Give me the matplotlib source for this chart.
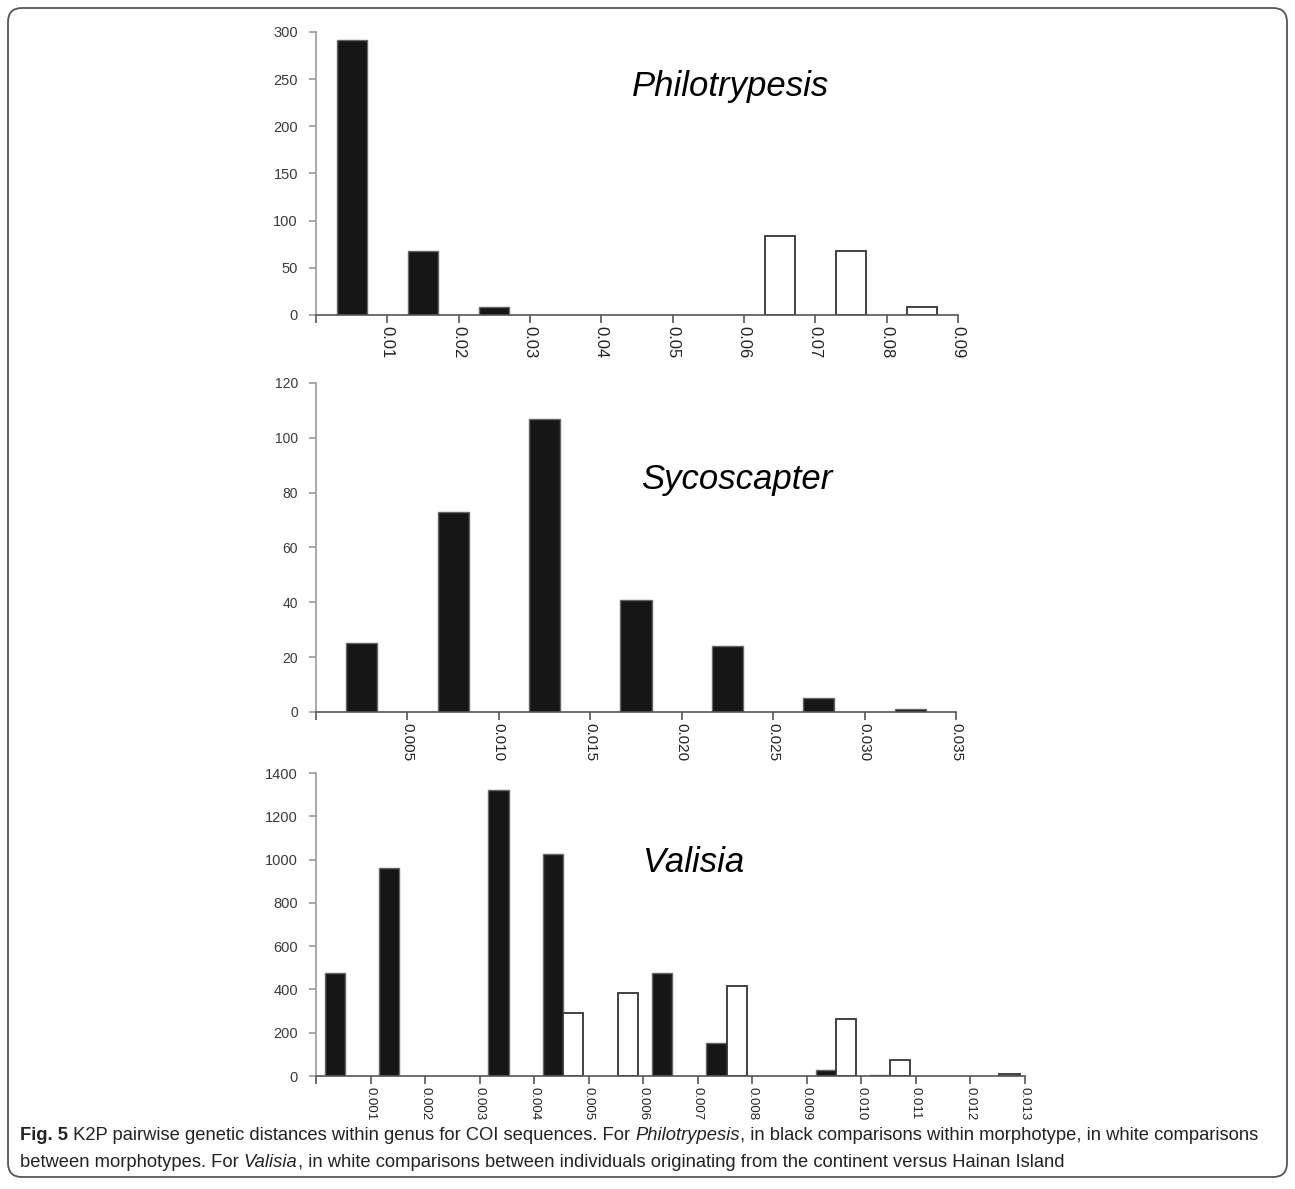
import numpy as np
import matplotlib
matplotlib.use("Agg")
import matplotlib.pyplot as plt
from matplotlib.patches import FancyBboxPatch
from matplotlib.transforms import IdentityTransform

plt.rcParams["font.family"] = ["Liberation Sans", "DejaVu Sans"]

# Philotrypesis
philo_labels = ["0.01", "0.02", "0.03", "0.04", "0.05", "0.06", "0.07", "0.08", "0.09"]
philo_black = [291, 68, 8, 0, 0, 0, 0, 0, 0]
philo_white = [0, 0, 0, 0, 0, 0, 84, 68, 8]
philo_yticks = [0, 50, 100, 150, 200, 250, 300]

# Sycoscapter
syco_labels = ["0.005", "0.010", "0.015", "0.020", "0.025", "0.030", "0.035"]
syco_black = [25, 73, 107, 41, 24, 5, 1]
syco_yticks = [0, 20, 40, 60, 80, 100, 120]

# Valisia
val_labels = ["0.001", "0.002", "0.003", "0.004", "0.005", "0.006", "0.007",
              "0.008", "0.009", "0.010", "0.011", "0.012", "0.013"]
val_black = [475, 960, 0, 1320, 1025, 0, 475, 155, 0, 30, 3, 0, 0]
val_white = [0, 0, 0, 0, 290, 385, 0, 415, 0, 265, 75, 0, 8]
val_yticks = [0, 200, 400, 600, 800, 1000, 1200, 1400]

BLACK = "#161616"


def draw_bars(ax, x, vals, width, fill, edge, lw, align="center"):
    vals = np.asarray(vals)
    keep = vals > 0
    ax.bar(np.asarray(x)[keep], vals[keep], width=width, align=align,
           color=fill, edgecolor=edge, linewidth=lw, zorder=3)


def style_axis(ax, labels, yticks, xsize, ysize=10.5):
    n = len(labels)
    ax.set_xlim(0, n)
    ax.set_ylim(0, yticks[-1])
    ax.set_yticks(yticks)
    ax.set_xticks(np.arange(n + 1))
    ax.set_xticklabels([""] + labels, rotation=-90, fontsize=xsize, color="#222222")
    ax.tick_params(axis="y", labelsize=ysize, labelcolor="#3a3a3a", length=5,
                   color="#999999", width=1.2, pad=8)
    ax.tick_params(axis="x", length=6, color="#555555", width=1.2, pad=2)
    for s in ("top", "right"):
        ax.spines[s].set_visible(False)
    ax.spines["left"].set_color("#999999")
    ax.spines["left"].set_linewidth(1.2)
    ax.spines["bottom"].set_color("#555555")
    ax.spines["bottom"].set_linewidth(1.2)
    ax.spines["bottom"].set_zorder(4)


fig = plt.figure(figsize=(12.95, 11.89), dpi=100)

# --- Philotrypesis ---
ax1 = fig.add_axes([0.244, 0.7351, 0.4958, 0.238])
x = np.arange(len(philo_labels)) + 0.5
draw_bars(ax1, x, philo_black, 0.42, BLACK, "#666666", 1)
draw_bars(ax1, x, philo_white, 0.42, "white", "#333333", 1.3)
style_axis(ax1, philo_labels, philo_yticks, 12)
ax1.text(0.646, 0.806, "Philotrypesis", transform=ax1.transAxes, ha="center",
         va="center", fontsize=25, style="italic")

# --- Sycoscapter ---
ax2 = fig.add_axes([0.244, 0.4012, 0.4942, 0.2767])
x = np.arange(len(syco_labels)) + 0.5
draw_bars(ax2, x, syco_black, 0.34, BLACK, "#666666", 1)
style_axis(ax2, syco_labels, syco_yticks, 11, 10)
ax2.text(0.658, 0.708, "Sycoscapter", transform=ax2.transAxes, ha="center",
         va="center", fontsize=25, style="italic")

# --- Valisia ---
ax3 = fig.add_axes([0.244, 0.095, 0.5475, 0.2548])
x = np.arange(len(val_labels)) + 0.53
draw_bars(ax3, x, val_black, -0.37, BLACK, "#666666", 1, align="edge")
draw_bars(ax3, x, val_white, 0.37, "white", "#333333", 1.3, align="edge")
style_axis(ax3, val_labels, val_yticks, 9.5)
ax3.text(0.532, 0.706, "Valisia", transform=ax3.transAxes, ha="center",
         va="center", fontsize=25, style="italic")

# frame
fig.add_artist(FancyBboxPatch((8, 12), 1279, 1169,
                              boxstyle="round,pad=0,rounding_size=14",
                              transform=IdentityTransform(), fill=False,
                              edgecolor="#555555", linewidth=1.3))

# caption
renderer = fig.canvas.get_renderer()
line1 = [
    ("Fig. 5", "bold", "normal"),
    (" K2P pairwise genetic distances within genus for COI sequences. For ", "normal", "normal"),
    ("Philotrypesis", "normal", "italic"),
    (", in black comparisons within morphotype, in white comparisons", "normal", "normal"),
]
line2 = [
    ("between morphotypes. For ", "normal", "normal"),
    ("Valisia", "normal", "italic"),
    (", in white comparisons between individuals originating from the continent versus Hainan Island", "normal", "normal"),
]


def caption_line(pieces, x0, y0, size):
    xpos = x0
    for txt, weight, style in pieces:
        t = fig.text(xpos / 1295, 1 - y0 / 1189, txt, fontsize=size,
                     weight=weight, style=style, va="baseline", ha="left",
                     color="#222222")
        xpos += t.get_window_extent(renderer).width
    return xpos


# fit the first caption line to the reference width
probe = [fig.text(0, 0, p[0], fontsize=10, weight=p[1], style=p[2]) for p in line1]
w10 = sum(t.get_window_extent(renderer).width for t in probe)
for t in probe:
    t.remove()
cap_size = 10 * 1240 / w10

caption_line(line1, 20, 1140, cap_size)
caption_line(line2, 20, 1167, cap_size)

fig.savefig("out.png", dpi=100)
